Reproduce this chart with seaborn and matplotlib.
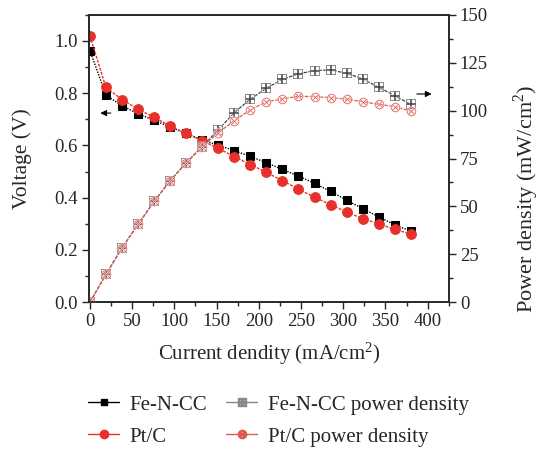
import numpy as np
import pandas as pd
import seaborn as sns
import matplotlib
matplotlib.use("Agg")
import matplotlib.pyplot as plt
from matplotlib.lines import Line2D
from matplotlib.ticker import MultipleLocator, FormatStrFormatter

current = [0, 19, 38, 57, 76, 95, 114, 133, 152, 171, 190, 209, 228, 247, 266, 285, 304, 323, 342, 361, 380]
fe_voltage = [0.963, 0.793, 0.752, 0.721, 0.697, 0.670, 0.646, 0.621, 0.601, 0.580, 0.558, 0.534, 0.508,
              0.483, 0.455, 0.424, 0.391, 0.358, 0.327, 0.296, 0.272]
pt_voltage = [1.019, 0.822, 0.776, 0.739, 0.708, 0.674, 0.646, 0.618, 0.589, 0.557, 0.527, 0.497, 0.465,
              0.433, 0.402, 0.373, 0.345, 0.320, 0.300, 0.279, 0.261]
fe_power = [0, 14.5, 28.4, 40.6, 52.6, 63.4, 72.8, 81.2, 90.0, 99.0, 106.0, 111.7, 116.4, 119.2, 120.9,
            121.3, 119.5, 116.6, 112.2, 107.8, 103.3]
pt_power = [0, 14.5, 28.4, 40.6, 52.6, 63.4, 72.8, 81.2, 88.5, 94.8, 100.4, 104.7, 106.1, 107.5, 107.3,
            106.8, 106.0, 104.7, 103.3, 102.1, 99.8]

labels = ["Fe-N-CC", "Pt/C", "Fe-N-CC power density", "Pt/C power density"]

sns.set_style("ticks")
plt.rcParams["font.family"] = ["Liberation Serif", "DejaVu Serif"]
plt.rcParams["mathtext.fontset"] = "dejavuserif"

fig = plt.figure(figsize=(5.40, 4.51), dpi=100)
ax = fig.add_axes([0.165, 0.330, 0.666, 0.637])
ax2 = ax.twinx()

df = pd.DataFrame({"I": current, "fe_v": fe_voltage, "pt_v": pt_voltage,
                   "fe_p": fe_power, "pt_p": pt_power})

red = "#e8302a"
sns.lineplot(data=df, x="I", y="fe_v", ax=ax, color="black", marker="s", markersize=5.5,
             markeredgecolor="black", linestyle=(0, (1, 1)), linewidth=1.0)
sns.lineplot(data=df, x="I", y="pt_v", ax=ax, color=red, marker="o", markersize=7,
             markeredgecolor=red, linestyle=(0, (2, 1)), linewidth=1.0)
sns.lineplot(data=df, x="I", y="fe_p", ax=ax2, color="#444444", marker=r"$\boxplus$", markersize=7,
             markeredgewidth=0.3, linestyle=(0, (3, 1)), linewidth=0.9)
sns.lineplot(data=df, x="I", y="pt_p", ax=ax2, color="#e05a55", marker=r"$\otimes$", markersize=7,
             markeredgewidth=0.3, linestyle=(0, (3, 1)), linewidth=0.9)

ax.set_xlim(-1, 425)
ax.set_ylim(0, 1.1)
ax2.set_ylim(0, 150)

ax.xaxis.set_major_locator(MultipleLocator(50))
ax.xaxis.set_minor_locator(MultipleLocator(25))
ax.yaxis.set_major_locator(MultipleLocator(0.2))
ax.yaxis.set_minor_locator(MultipleLocator(0.1))
ax2.yaxis.set_major_locator(MultipleLocator(25))
ax2.yaxis.set_minor_locator(MultipleLocator(12.5))
ax.yaxis.set_major_formatter(FormatStrFormatter("%.1f"))

for a in (ax, ax2):
    a.tick_params(which="major", length=5, width=1, labelsize=13.5, direction="out", pad=3)
    a.tick_params(which="minor", length=3, width=1, direction="out")
    for s in a.spines.values():
        s.set_linewidth(1.2)
        s.set_visible(True)

ax.set_xlabel(r"Current dendity (mA/cm$^\mathregular{2}$)", fontsize=15, labelpad=7)
ax.set_ylabel("Voltage (V)", fontsize=15.5, labelpad=16)
ax2.set_ylabel(r"Power density (mW/cm$^\mathregular{2}$)", fontsize=16)
ax2.yaxis.set_label_coords(1.175, 0.36)

ax.annotate("", xy=(9, 0.724), xytext=(28, 0.724),
            arrowprops=dict(arrowstyle="-|>", color="black", lw=0.8, mutation_scale=9))
ax2.annotate("", xy=(408, 108.7), xytext=(384, 108.7),
             arrowprops=dict(arrowstyle="-|>", color="black", lw=0.8, mutation_scale=9))

handles = [
    Line2D([], [], color="black", marker="s", markersize=5, linewidth=1),
    Line2D([], [], color=red, marker="o", markersize=6, linewidth=1),
    Line2D([], [], color="#888888", marker=r"$\boxplus$", markersize=6, linewidth=1),
    Line2D([], [], color="#e05a55", marker=r"$\otimes$", markersize=6, linewidth=1),
]
fig.legend(handles, labels, loc="upper left", bbox_to_anchor=(0.163, 0.124), ncol=2, frameon=False,
           fontsize=15, handlelength=1.5, handletextpad=0.5, columnspacing=0.9,
           labelspacing=0.6, borderaxespad=0, borderpad=0)

fig.savefig("out.png", dpi=100)
